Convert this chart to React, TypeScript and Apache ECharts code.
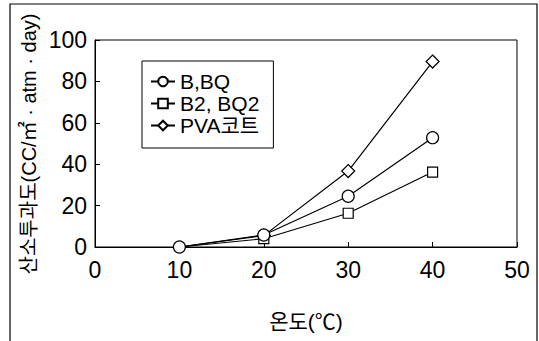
import React, { useEffect, useRef } from "react";
import * as echarts from "echarts";

const temps = [10, 20, 30, 40];
const seriesNames = ["B,BQ", "B2, BQ2", "PVA코트"];
const bbq = [0, 5.8, 24.5, 52.8];
const b2bq2 = [0, 4, 16.3, 36.2];
const pva = [0, 5.5, 36.7, 89.6];
const xTicks = [0, 10, 20, 30, 40, 50];
const yTicks = [0, 20, 40, 60, 80, 100];
const yTitle = "산소투과도(CC/㎡ · atm · day)";
const xTitle = "온도(℃)";

const FONT = "'Liberation Sans', 'Noto Sans CJK KR', sans-serif";

export default function App() {
  const ref = useRef<HTMLDivElement>(null);
  useEffect(() => {
    if (!ref.current) return;
    const chart = echarts.init(ref.current, null, { renderer: "svg" });
    const mk = (name: string, vals: number[], symbol: string, size: number, hideFirst: boolean, z: number) => ({
      name,
      type: "line",
      z,
      symbol,
      symbolSize: size,
      lineStyle: { color: "#000", width: 1.2 },
      itemStyle: { color: "#fff", borderColor: "#000", borderWidth: 1.2 },
      data: vals.map((v, i) =>
        hideFirst && i === 0 ? { value: [temps[i], v], symbol: "none" } : { value: [temps[i], v] }
      ),
    });
    chart.setOption({
      animation: false,
      backgroundColor: "#fff",
      textStyle: { fontFamily: FONT, color: "#000" },
      grid: { left: 95, right: 22, top: 40, bottom: 94, show: true, borderColor: "#000", borderWidth: 1 },
      xAxis: {
        type: "value",
        min: xTicks[0],
        max: xTicks[xTicks.length - 1],
        interval: 10,
        axisLine: { show: true, lineStyle: { color: "#000" } },
        axisTick: { show: true, inside: true, length: 5, lineStyle: { color: "#000" } },
        splitLine: { show: false },
        axisLabel: { fontSize: 23, color: "#000", fontFamily: FONT, margin: 11 },
        name: xTitle,
        nameLocation: "middle",
        nameGap: 64,
        nameTextStyle: { fontSize: 21, color: "#000", fontFamily: FONT },
      },
      yAxis: {
        type: "value",
        min: yTicks[0],
        max: yTicks[yTicks.length - 1],
        interval: 20,
        axisLine: { show: true, lineStyle: { color: "#000" } },
        axisTick: { show: true, inside: true, length: 5, lineStyle: { color: "#000" } },
        splitLine: { show: false },
        axisLabel: { fontSize: 23, color: "#000", fontFamily: FONT, margin: 8 },
      },
      legend: {
        orient: "vertical",
        left: 142,
        top: 61,
        padding: [10, 14, 12, 8],
        itemGap: 1,
        itemWidth: 24,
        itemHeight: 12,
        borderColor: "#000",
        borderWidth: 1,
        textStyle: { fontSize: 21, lineHeight: 21, color: "#000", fontFamily: FONT },
        data: seriesNames,
      },
      graphic: [
        {
          type: "rect",
          shape: { x: 10, y: 4, width: 527, height: 345 },
          style: { fill: "none", stroke: "#000", lineWidth: 1.2 },
          silent: true,
        },
        {
          type: "text",
          x: 29,
          y: 144,
          rotation: Math.PI / 2,
          style: {
            text: yTitle,
            fontSize: 20,
            fontFamily: FONT,
            fill: "#000",
            align: "center",
            verticalAlign: "middle",
          },
          silent: true,
        },
      ],
      series: [
        mk(seriesNames[2], pva, "diamond", 13, true, 2),
        mk(seriesNames[1], b2bq2, "rect", 10, true, 3),
        mk(seriesNames[0], bbq, "circle", 12, false, 4),
      ],
    });
    return () => chart.dispose();
  }, []);
  return <div ref={ref} style={{ width: 539, height: 341, position: "absolute", left: 0, top: 0 }} />;
}
